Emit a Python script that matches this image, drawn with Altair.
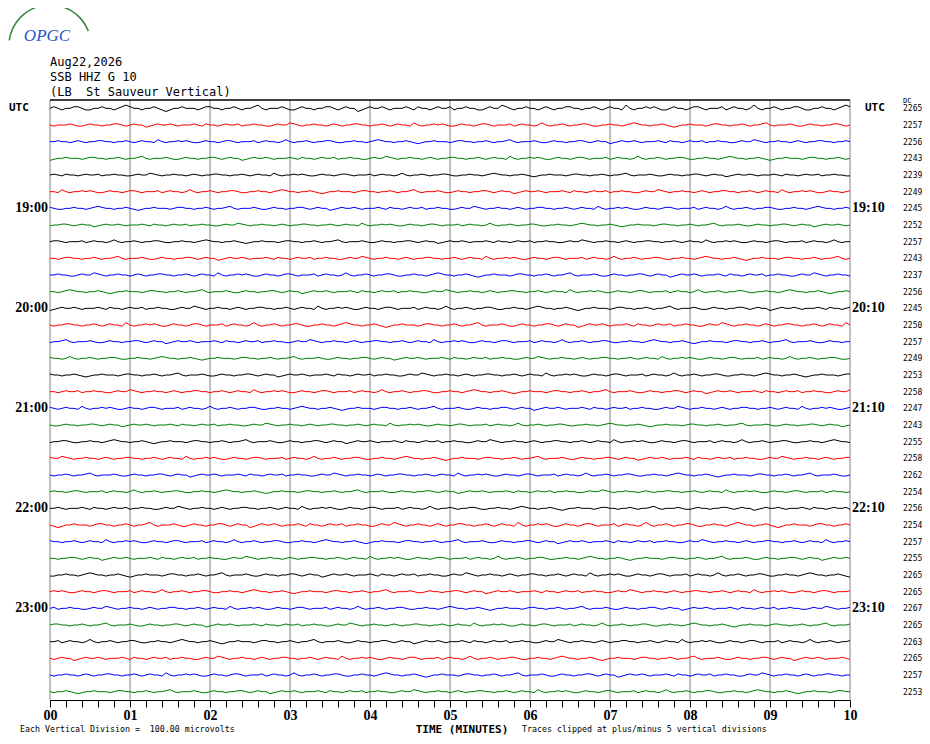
import altair as alt
import pandas as pd

# ---------------- data ----------------
NB = "\u00a0"
header_lines = ["Aug22,2026", "SSB HHZ G 10", "(LB" + NB + NB + "St Sauveur Vertical)"]
left_hour_labels = ["19:00", "20:00", "21:00", "22:00", "23:00"]
right_hour_labels = ["19:10", "20:10", "21:10", "22:10", "23:10"]
hour_rows = [6, 12, 18, 24, 30]
dc_values = [2265, 2257, 2256, 2243, 2239, 2249, 2245, 2252, 2257, 2243, 2237, 2256,
             2245, 2250, 2257, 2249, 2253, 2258, 2247, 2243, 2255, 2258, 2262, 2254,
             2256, 2254, 2257, 2255, 2265, 2265, 2267, 2265, 2263, 2265, 2257, 2253]
trace_colors = ["#000000", "#ff0000", "#0000ff", "#008000"]
minute_ticks = [0, 1, 2, 3, 4, 5, 6, 7, 8, 9, 10]
minor_ticks = [round(k * 0.2, 1) for k in range(51)]

# hand-read wiggle pattern (pixel-ish offsets of the noisy traces)
wiggle = [0, 1, 0, -1, 0, 0, 1, 1, 0, -1, -1, 0, 0, 1, 0, 0, -1, 0, 1, 2,
          1, 0, 0, -1, 0, 0, 1, 0, -1, -2, -1, 0, 0, 1, 0, 0, 0, -1, 0, 1,
          1, 0, 0, -1, 0, 0, 1, 0, -1, 0, 0, 1, 2, 0, -1, 0, 0, 0, 1, 0,
          -1, -1, 0, 1, 0, 0, -1, 0, 0, 1, 1, 0, -1, 0, 1, 0, 0, -2, -1, 0,
          1, 0, 0, 1, 0, -1, 0, 0, 0, 1, 0, -1, 1, 0, 0, -1, 0, 1, 0, 0,
          1, -1, 0, 0, 1, 0, 0, -1, -1, 0, 1, 0, 0, 2, 1, 0, -1, 0, 0, 1,
          0, 0, -1, 0, 1, 0, -1, 0, 0, 1, 1, 0, 0, -1, 0, 0, 1, 0, -1, 0,
          1, 0, 0, -1, 2, 0, -1, 0, 0, 1, 0, 1, 0, -1, -1, 0, 1, 0, 0, -1,
          0, 1, 1, 0, -1, 0, 0, 0, 1, -1, 0, 1, 0, 0, -1, 0, 2, 0, -1, 0]
trace_offsets = [0, 53, 117, 29, 88, 141, 7, 66, 160, 35, 102, 14, 77, 125, 48, 171, 20, 93,
                 136, 59, 3, 110, 42, 155, 81, 27, 130, 64, 9, 148, 99, 38, 166, 71, 115, 22]
trace_amps = [1.6, 1.1, 1.0, 1.0, 0.9, 1.0, 1.0, 0.9, 0.9, 1.0, 1.1, 1.0,
              1.1, 1.2, 1.0, 0.9, 1.0, 1.0, 1.0, 0.9, 1.0, 1.0, 1.0, 0.9,
              1.0, 1.3, 1.0, 1.0, 1.1, 1.0, 1.0, 1.0, 1.1, 1.1, 1.1, 1.0]

N_ROWS = 36
PX_PER_ROW = 600 / N_ROWS
N_SAMPLES = 201

recs = []
for i in range(N_ROWS):
    for k in range(N_SAMPLES):
        w = wiggle[(k + trace_offsets[i]) % len(wiggle)]
        recs.append({"t": k * 10 / (N_SAMPLES - 1),
                     "y": i + 0.5 - w * trace_amps[i] / PX_PER_ROW,
                     "row": i,
                     "color": trace_colors[i % 4]})
traces_df = pd.DataFrame(recs)

# ---------------- chart ----------------
x_scale = alt.Scale(domain=[0, 10], nice=False, zero=False)
y_scale = alt.Scale(domain=[N_ROWS, 0], nice=False, zero=False)
x_axis = alt.Axis(values=minor_ticks,
                  labelExpr="datum.value % 1 == 0 ? (datum.value < 10 ? '0' + datum.value : '' + datum.value) : ''",
                  title=None, grid=False, tickSize=7, tickColor="black", tickWidth=1,
                  domainColor="black", domainWidth=1,
                  labelFont="Liberation Serif", labelFontWeight="bold", labelFontSize=14,
                  labelColor="black", labelPadding=1, labelOverlap=False, labelFlush=False)


def X(field="t"):
    return alt.X(f"{field}:Q", scale=x_scale, axis=x_axis)


def Y(field="y"):
    return alt.Y(f"{field}:Q", scale=y_scale, axis=None)


grid = alt.Chart(pd.DataFrame({"t": minute_ticks})).mark_rule(
    color="#808080", strokeWidth=1).encode(x=X(), y=alt.value(0), y2=alt.value(600))

top_line = alt.Chart(pd.DataFrame({"a": [0]})).mark_rule(
    color="black", strokeWidth=1.6).encode(x=alt.value(0), x2=alt.value(800), y=alt.value(0))

traces = alt.Chart(traces_df).mark_line(strokeWidth=1).encode(
    x=X(), y=Y(), color=alt.Color("color:N", scale=None), detail="row:N")

row_lab = pd.DataFrame({"y": [r + 0.5 for r in hour_rows],
                        "left": left_hour_labels, "right": right_hour_labels})
left_hours = alt.Chart(row_lab).mark_text(
    align="right", baseline="middle", font="Liberation Serif", fontWeight="bold",
    fontSize=14, color="black").encode(x=alt.value(-2), y=Y(), text="left:N")
right_hours = alt.Chart(row_lab).mark_text(
    align="left", baseline="middle", font="Liberation Serif", fontWeight="bold",
    fontSize=14, color="black").encode(x=alt.value(802), y=Y(), text="right:N")

utc_df = pd.DataFrame({"y": [0.5], "txt": ["UTC"]})
utc_left = alt.Chart(utc_df).mark_text(
    align="left", baseline="middle", font="DejaVu Sans Mono", fontWeight="bold",
    fontSize=11, color="black").encode(x=alt.value(-41), y=Y(), text="txt:N")
utc_right = alt.Chart(utc_df).mark_text(
    align="left", baseline="middle", font="DejaVu Sans Mono", fontWeight="bold",
    fontSize=11, color="black").encode(x=alt.value(815), y=Y(), text="txt:N")

dc_df = pd.DataFrame({"y": [i + 0.5 for i in range(N_ROWS)], "dc": [str(v) for v in dc_values]})
dc_text = alt.Chart(dc_df).mark_text(
    align="left", baseline="middle", font="DejaVu Sans Mono", fontSize=8,
    color="black", dy=1).encode(x=alt.value(853), y=Y(), text="dc:N")
dc_head = alt.Chart(pd.DataFrame({"txt": ["DC"]})).mark_text(
    align="left", baseline="middle", font="DejaVu Sans Mono", fontSize=7,
    color="black").encode(x=alt.value(853), y=alt.value(1), text="txt:N")

hdr_df = pd.DataFrame({"txt": header_lines, "yy": [-38, -23, -8]})
header = alt.Chart(hdr_df).mark_text(
    align="left", baseline="middle", font="DejaVu Sans Mono", fontSize=12,
    color="black").encode(x=alt.value(0), y=alt.Y("yy:Q", scale=None, axis=None), text="txt:N")

logo_arc = alt.Chart(pd.DataFrame({"a": [0]})).mark_arc(
    theta=4.85, theta2=7.48, radius=42, radius2=40.4, color="#3a8a3a").encode(
    x=alt.value(0), y=alt.value(-54))
logo_txt = alt.Chart(pd.DataFrame({"txt": ["OPGC"]})).mark_text(
    align="center", baseline="middle", font="Liberation Serif", fontStyle="italic",
    fontSize=17, color="#2a55c8").encode(x=alt.value(-3), y=alt.value(-64), text="txt:N")

foot_df = pd.DataFrame({"txt": ["Each Vertical Division =" + NB + NB + "100.00 microvolts",
                                "Traces clipped at plus/minus 5 vertical divisions"],
                        "xx": [-30, 472]})
footer = alt.Chart(foot_df).mark_text(
    align="left", baseline="middle", font="DejaVu Sans Mono", fontSize=8.3,
    color="black").encode(x=alt.X("xx:Q", scale=None, axis=None), y=alt.value(630), text="txt:N")
time_title = alt.Chart(pd.DataFrame({"txt": ["TIME (MINUTES)"]})).mark_text(
    align="center", baseline="middle", font="DejaVu Sans Mono", fontWeight="bold",
    fontSize=11, color="black").encode(x=alt.value(412), y=alt.value(630), text="txt:N")

chart = alt.layer(
    grid, top_line, traces, left_hours, right_hours, utc_left, utc_right,
    dc_text, dc_head, header, logo_arc, logo_txt, footer, time_title
).properties(
    width=800, height=600,
    autosize=alt.AutoSizeParams(type="none"),
    padding={"left": 42, "top": 92, "right": 72, "bottom": 36},
    background="white"
).configure_view(stroke=None)

chart.save("out.html", embed_options={"renderer": "svg", "actions": False})
